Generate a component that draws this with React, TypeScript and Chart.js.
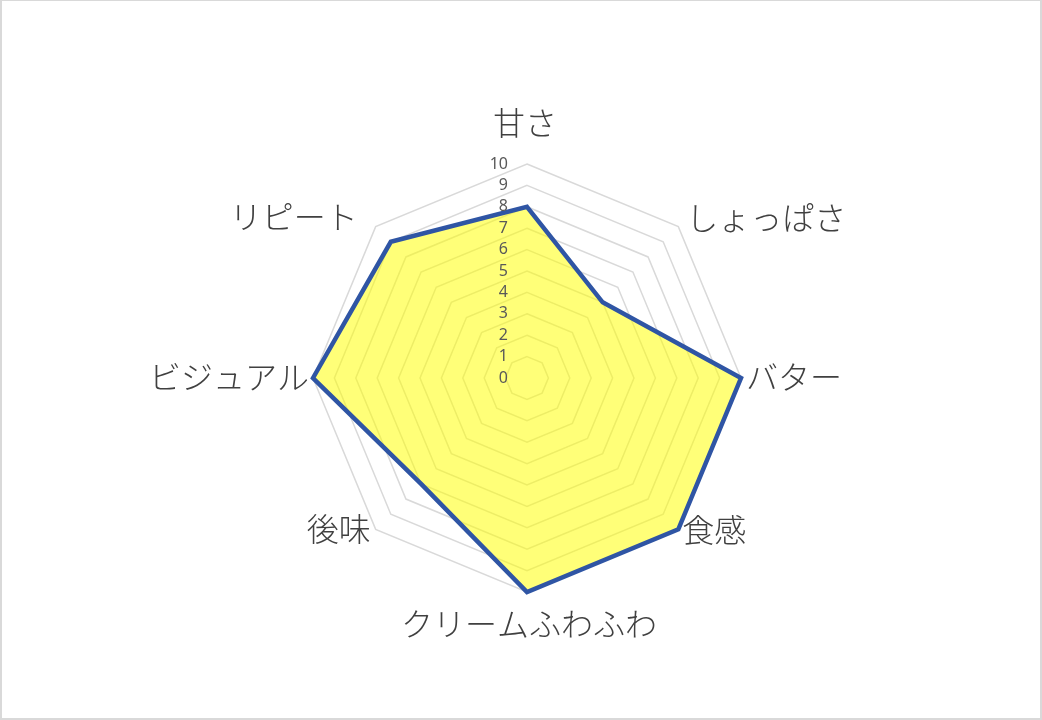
import React, { useEffect, useRef } from "react";
import { Chart, registerables, RadialLinearScale } from "chart.js";

Chart.register(...registerables);

const categories = ["甘さ", "しょっぱさ", "バター", "食感", "クリームふわふわ", "後味", "ビジュアル", "リピート"];
const scores = [8, 5, 10, 10, 10, 7, 10, 9];
const tickValues = [0, 1, 2, 3, 4, 5, 6, 7, 8, 9, 10];

// label offsets from the outer ring vertex: [dx, dy, align]
const labelPlacement: [number, number, CanvasTextAlign][] = [
  [-2, -41, "center"],
  [8, -9, "left"],
  [5, -1, "left"],
  [4, 1, "left"],
  [2, 32, "center"],
  [-5, 0, "right"],
  [-4, -1, "right"],
  [-18, -10, "right"],
];

const textPlugin = {
  id: "radarText",
  afterDatasetsDraw(chart: Chart) {
    const scale = chart.scales.r as RadialLinearScale;
    const ctx = chart.ctx;
    ctx.save();
    ctx.textBaseline = "middle";

    ctx.font = '16px "Noto Sans", sans-serif';
    ctx.fillStyle = "#595959";
    ctx.textAlign = "right";
    tickValues.forEach((v) => {
      const y = scale.yCenter - scale.getDistanceFromCenterForValue(v);
      ctx.fillText(String(v), scale.xCenter - 19, y);
    });

    ctx.font = '300 32px "Noto Sans CJK JP", sans-serif';
    ctx.fillStyle = "#404040";
    categories.forEach((label, i) => {
      const p = scale.getPointPosition(i, scale.drawingArea);
      const [dx, dy, align] = labelPlacement[i];
      ctx.textAlign = align;
      ctx.fillText(label, p.x + dx, p.y + dy);
    });
    ctx.restore();
  },
};

const RadarChart = () => {
  const chartRef = useRef<HTMLCanvasElement | null>(null);

  useEffect(() => {
    if (!chartRef.current) return;
    const ctx = chartRef.current.getContext("2d");
    if (!ctx) return;

    const chart = new Chart(ctx, {
      type: "radar",
      data: {
        labels: categories,
        datasets: [
          {
            label: "評価",
            data: scores,
            backgroundColor: "rgba(255, 255, 0, 0.53)",
            borderColor: "#2F55A4",
            borderWidth: 4.5,
            pointRadius: 0,
            fill: true,
          },
        ],
      },
      options: {
        responsive: false,
        animation: false,
        layout: { padding: { left: 313, right: 301, top: 164, bottom: 128 } },
        plugins: {
          legend: { display: false },
          tooltip: { enabled: false },
        },
        scales: {
          r: {
            min: 0,
            max: 10,
            ticks: { stepSize: 1, display: false },
            grid: { color: "#d9d9d9", lineWidth: 1.5 },
            angleLines: { display: false },
            pointLabels: { display: false },
          },
        },
      },
      plugins: [textPlugin],
    });

    return () => {
      chart.destroy();
    };
  }, []);

  return <canvas ref={chartRef} width={1042} height={720} style={{ display: "block", width: 1042, height: 720 }} />;
};

const App = () => {
  return (
    <div
      style={{
        position: "absolute",
        left: 0,
        top: 0,
        width: 1042,
        height: 720,
        background: "#fff",
        boxShadow: "inset 2px 1px 0 0 #d9d9d9, inset -2px -2px 0 0 #d9d9d9",
      }}
    >
      <RadarChart />
    </div>
  );
};

export default App;
